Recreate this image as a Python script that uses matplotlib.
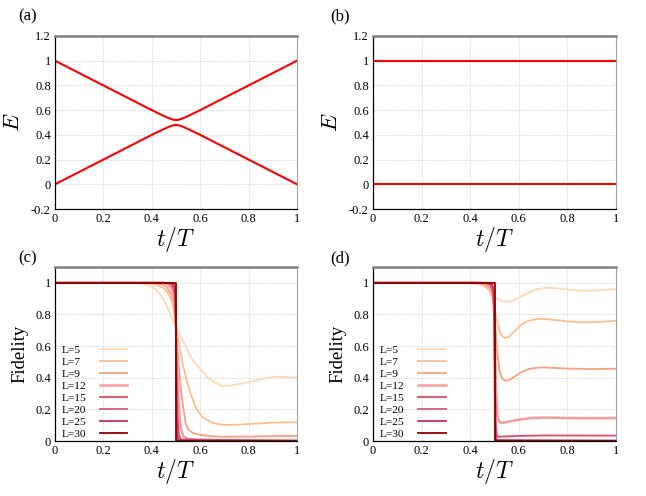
import numpy as np
import matplotlib
matplotlib.use("Agg")
import matplotlib.pyplot as plt

plt.rcParams['font.family'] = ['Liberation Serif', 'DejaVu Serif']
plt.rcParams['mathtext.fontset'] = 'cm'

# ---------------- data ----------------
# (a) energy levels
ta = [0, 0.1, 0.2, 0.3, 0.4, 0.44, 0.47, 0.49, 0.5, 0.51, 0.53, 0.56, 0.6, 0.7, 0.8, 0.9, 1.0]
Ea_up = [1.0, 0.9, 0.8, 0.7, 0.6, 0.562, 0.535, 0.522, 0.52, 0.522, 0.535, 0.562, 0.6, 0.7, 0.8, 0.9, 1.0]
Ea_lo = [0.0, 0.1, 0.2, 0.3, 0.4, 0.438, 0.465, 0.478, 0.48, 0.478, 0.465, 0.438, 0.4, 0.3, 0.2, 0.1, 0.0]
# (b) energy levels
tb = [0, 1.0]
Eb_up = [1.0, 1.0]
Eb_lo = [0.0, 0.0]

labels = ["L=5", "L=7", "L=9", "L=12", "L=15", "L=20", "L=25", "L=30"]
colors = ['#fdd9b4', '#fdbe8c', '#fc9f7e', '#f89c9c', '#e04a62', '#d85a7a', '#c83050', '#8b0000']
widths = [1.3, 1.3, 1.3, 1.8, 1.3, 1.3, 1.3, 1.3]

# (c) fidelity
c_t = [
    [0, 0.3, 0.35, 0.38, 0.4, 0.42, 0.44, 0.46, 0.48, 0.5, 0.52, 0.54, 0.56, 0.58, 0.6, 0.62, 0.64, 0.66, 0.69, 0.72, 0.76, 0.8, 0.85, 0.9, 0.95, 1.0],
    [0, 0.35, 0.4, 0.43, 0.45, 0.47, 0.48, 0.49, 0.5, 0.51, 0.52, 0.53, 0.545, 0.56, 0.585, 0.61, 0.64, 0.67, 0.7, 0.75, 0.8, 0.85, 0.9, 0.95, 1.0],
    [0, 0.4, 0.44, 0.46, 0.48, 0.49, 0.5, 0.505, 0.51, 0.52, 0.53, 0.54, 0.55, 0.57, 0.6, 0.65, 0.7, 0.8, 0.9, 1.0],
    [0, 0.44, 0.46, 0.48, 0.49, 0.495, 0.5, 0.505, 0.51, 0.515, 0.52, 0.53, 0.55, 0.6, 0.7, 1.0],
    [0, 0.46, 0.48, 0.49, 0.495, 0.5, 0.503, 0.507, 0.512, 0.52, 0.53, 1.0],
    [0, 0.47, 0.485, 0.493, 0.497, 0.5, 0.502, 0.505, 0.51, 1.0],
    [0, 0.48, 0.49, 0.495, 0.498, 0.5, 0.501, 0.503, 0.506, 1.0],
    [0, 0.5, 0.5, 1.0],
]
c_F = [
    [1, 1, 0.996, 0.988, 0.975, 0.955, 0.915, 0.86, 0.79, 0.725, 0.66, 0.60, 0.535, 0.49, 0.455, 0.42, 0.39, 0.37, 0.348, 0.35, 0.36, 0.372, 0.39, 0.405, 0.405, 0.40],
    [1, 1, 0.995, 0.98, 0.965, 0.93, 0.895, 0.84, 0.72, 0.63, 0.55, 0.47, 0.38, 0.30, 0.2, 0.15, 0.122, 0.108, 0.102, 0.103, 0.107, 0.112, 0.116, 0.118, 0.118],
    [1, 1, 0.99, 0.975, 0.93, 0.88, 0.72, 0.6, 0.5, 0.33, 0.21, 0.11, 0.075, 0.05, 0.038, 0.03, 0.027, 0.028, 0.031, 0.032],
    [1, 1, 0.995, 0.97, 0.93, 0.88, 0.72, 0.45, 0.27, 0.15, 0.08, 0.03, 0.012, 0.007, 0.005, 0.005],
    [1, 1, 0.99, 0.965, 0.92, 0.72, 0.4, 0.15, 0.04, 0.008, 0.002, 0.001],
    [1, 1, 0.99, 0.96, 0.9, 0.72, 0.3, 0.08, 0.01, 0.0],
    [1, 1, 0.99, 0.97, 0.92, 0.72, 0.3, 0.05, 0.005, 0.0],
    [1, 1, 0, 0],
]

# (d) fidelity
d_t = [
    [0, 0.38, 0.42, 0.45, 0.47, 0.49, 0.5, 0.51, 0.53, 0.55, 0.57, 0.6, 0.63, 0.66, 0.69, 0.72, 0.75, 0.8, 0.85, 0.88, 0.92, 0.96, 1.0],
    [0, 0.4, 0.44, 0.47, 0.48, 0.49, 0.5, 0.505, 0.51, 0.52, 0.53, 0.545, 0.56, 0.58, 0.61, 0.64, 0.67, 0.7, 0.75, 0.8, 0.86, 0.92, 1.0],
    [0, 0.42, 0.46, 0.48, 0.49, 0.495, 0.5, 0.505, 0.51, 0.52, 0.53, 0.545, 0.56, 0.58, 0.61, 0.64, 0.67, 0.7, 0.75, 0.8, 0.9, 1.0],
    [0, 0.44, 0.47, 0.485, 0.493, 0.497, 0.5, 0.503, 0.507, 0.512, 0.52, 0.53, 0.55, 0.6, 0.65, 0.7, 0.75, 0.8, 0.9, 1.0],
    [0, 0.46, 0.48, 0.49, 0.495, 0.5, 0.502, 0.505, 0.51, 0.515, 0.53, 0.6, 0.7, 1.0],
    [0, 0.47, 0.485, 0.493, 0.497, 0.5, 0.502, 0.505, 0.51, 0.6, 1.0],
    [0, 0.48, 0.49, 0.495, 0.498, 0.5, 0.501, 0.503, 0.506, 1.0],
    [0, 0.5, 0.5, 1.0],
]
d_F = [
    [1, 1, 0.995, 0.985, 0.965, 0.935, 0.915, 0.9, 0.885, 0.88, 0.885, 0.905, 0.93, 0.952, 0.965, 0.968, 0.966, 0.958, 0.951, 0.95, 0.952, 0.957, 0.96],
    [1, 1, 0.995, 0.97, 0.95, 0.91, 0.85, 0.8, 0.76, 0.7, 0.665, 0.652, 0.66, 0.69, 0.735, 0.76, 0.77, 0.772, 0.765, 0.756, 0.75, 0.752, 0.76],
    [1, 1, 0.99, 0.97, 0.94, 0.91, 0.84, 0.7, 0.58, 0.45, 0.4, 0.38, 0.385, 0.405, 0.435, 0.455, 0.463, 0.465, 0.462, 0.458, 0.455, 0.457],
    [1, 1, 0.99, 0.97, 0.93, 0.88, 0.78, 0.55, 0.3, 0.16, 0.12, 0.115, 0.12, 0.135, 0.145, 0.148, 0.147, 0.145, 0.144, 0.145],
    [1, 1, 0.99, 0.965, 0.92, 0.75, 0.4, 0.12, 0.035, 0.027, 0.028, 0.032, 0.035, 0.034],
    [1, 1, 0.99, 0.96, 0.9, 0.72, 0.3, 0.05, 0.005, 0.004, 0.004],
    [1, 1, 0.99, 0.97, 0.92, 0.72, 0.3, 0.05, 0.005, 0.0],
    [1, 1, 0, 0],
]

xticks = [0, 0.2, 0.4, 0.6, 0.8, 1]
xticklabels = ["0", "0.2", "0.4", "0.6", "0.8", "1"]
e_ticks = [-0.2, 0, 0.2, 0.4, 0.6, 0.8, 1, 1.2]
e_ticklabels = ["-0.2", "0", "0.2", "0.4", "0.6", "0.8", "1", "1.2"]
f_ticks = [0, 0.2, 0.4, 0.6, 0.8, 1]
f_ticklabels = ["0", "0.2", "0.4", "0.6", "0.8", "1"]
panel_names = ["(a)", "(b)", "(c)", "(d)"]

# ---------------- figure ----------------
W, H = 646, 496
fig = plt.figure(figsize=(W / 100, H / 100), dpi=100)

def rect(l, t, r, b):
    return [l / W, 1 - b / H, (r - l) / W, (b - t) / H]

axa = fig.add_axes(rect(55, 36, 297, 209))
axb = fig.add_axes(rect(373, 36, 616, 209))
axc = fig.add_axes(rect(55, 267, 297, 441))
axd = fig.add_axes(rect(373, 267, 616, 441))

def style(ax):
    ax.set_xlim(0, 1)
    ax.set_xticks(xticks)
    ax.set_xticklabels(xticklabels)
    ax.grid(True, color='#d4d4d4', linestyle=(0, (1.5, 1.5)), linewidth=0.6)
    ax.set_axisbelow(True)
    ax.tick_params(length=0, labelsize=9, pad=3)
    for s in ['left', 'bottom']:
        ax.spines[s].set_color('black')
        ax.spines[s].set_linewidth(0.9)
    ax.spines['top'].set_color('#808080')
    ax.spines['top'].set_linewidth(1.8)
    ax.spines['right'].set_color('#a0a0a0')
    ax.spines['right'].set_linewidth(0.8)
    ax.set_xlabel(r'$t/T$', fontsize=17, labelpad=0)

for ax, up, lo, tt in [(axa, Ea_up, Ea_lo, ta), (axb, Eb_up, Eb_lo, tb)]:
    style(ax)
    ax.plot(tt, up, color='red', lw=1.5)
    ax.plot(tt, lo, color='red', lw=1.5)
    ax.set_ylim(-0.2, 1.2)
    ax.set_yticks(e_ticks)
    ax.set_yticklabels(e_ticklabels)
    ax.set_ylabel(r'$E$', fontsize=16.5, labelpad=5)

for ax, TT, FF in [(axc, c_t, c_F), (axd, d_t, d_F)]:
    style(ax)
    lines = []
    for i in range(len(labels)):
        ln, = ax.plot(TT[i], FF[i], color=colors[i], lw=widths[i], label=labels[i])
        lines.append(ln)
    ax.set_ylim(0, 1.1)
    ax.set_yticks(f_ticks)
    ax.set_yticklabels(f_ticklabels)
    ax.set_ylabel('Fidelity', fontsize=13.5, labelpad=5)
    # text-only legend (labels)
    legA = ax.legend(lines, labels, loc='lower left', bbox_to_anchor=(0.029, 0.012),
                     frameon=False, fontsize=8.2, handlelength=0, handletextpad=0,
                     labelspacing=0.18, borderaxespad=0, borderpad=0)
    for h in legA.legend_handles:
        h.set_visible(False)
    ax.add_artist(legA)
    # handle-only legend (lines), text invisible
    legB = ax.legend(lines, labels, loc='lower left', bbox_to_anchor=(0.186, 0.012),
                     frameon=False, fontsize=8.2, handlelength=2.4, handletextpad=0.5,
                     labelspacing=0.18, borderaxespad=0, borderpad=0)
    for t in legB.get_texts():
        t.set_color('none')

for (x, y), name in zip([(18, 16), (330, 16), (18, 258), (330, 258)], panel_names):
    fig.text(x / W, 1 - y / H, name, fontsize=12, va='center', ha='left')

fig.savefig('out.png', dpi=100)
